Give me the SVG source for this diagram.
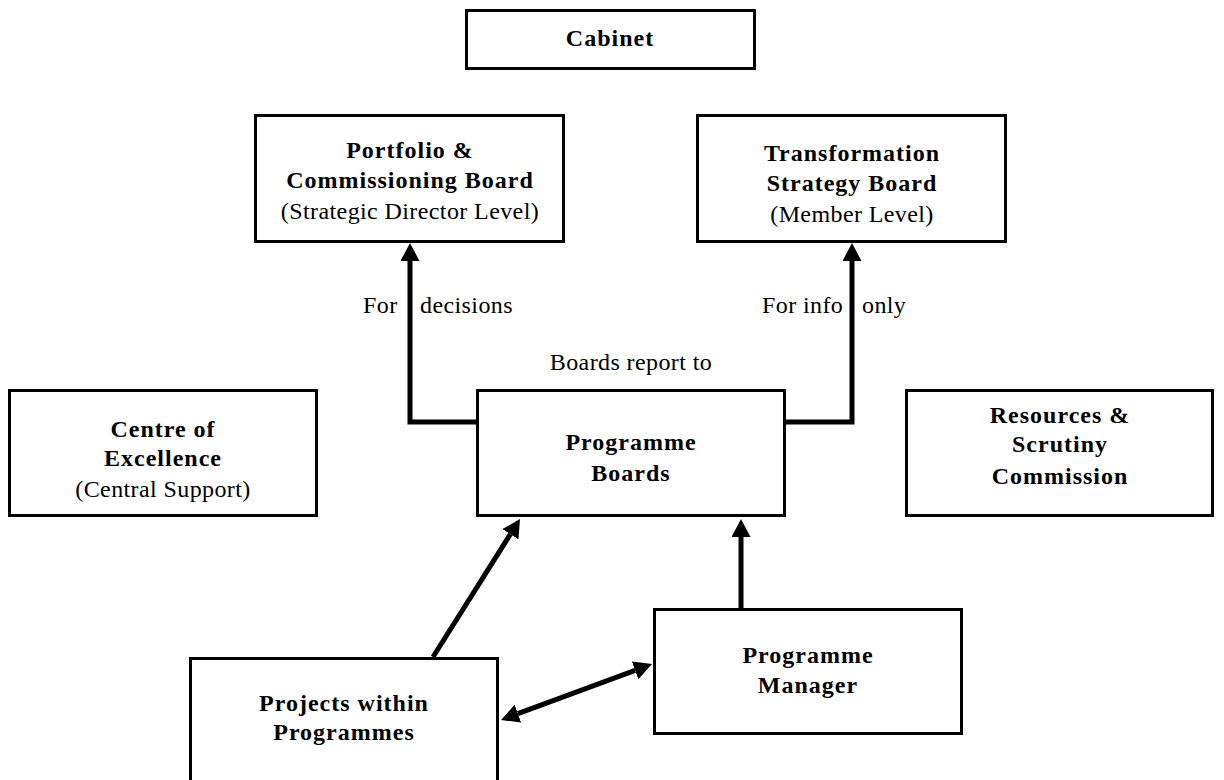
<svg xmlns="http://www.w3.org/2000/svg" width="1224" height="780" viewBox="0 0 1224 780">
<style>
.box{fill:#fff;stroke:#000;stroke-width:3}
.b{font-family:"Liberation Serif","Times New Roman",serif;font-weight:bold;font-size:24px;letter-spacing:1px;text-anchor:middle;fill:#000}
.r{font-family:"Liberation Serif","Times New Roman",serif;font-size:24px;letter-spacing:0.4px;text-anchor:middle;fill:#000}
.l{font-family:"Liberation Serif","Times New Roman",serif;font-size:24px;letter-spacing:0.4px;fill:#000}
.c{fill:none;stroke:#000;stroke-width:5;stroke-linejoin:miter}
</style>
<defs>
<marker id="ah" markerUnits="userSpaceOnUse" markerWidth="18" markerHeight="19" viewBox="0 0 18 19" refX="0" refY="9.5" orient="auto-start-reverse">
<path d="M0,0 L18,9.5 L0,19 z" fill="#000"/>
</marker>
</defs>
<rect width="1224" height="780" fill="#fff"/>
<g id="cabinet">
<rect class="box" x="466.5" y="10.5" width="288" height="58"/>
<text class="b" x="610" y="46">Cabinet</text>
</g>
<g id="portfolio">
<rect class="box" x="255.5" y="115.5" width="308" height="126"/>
<text class="b" x="410" y="158">Portfolio &amp;</text>
<text class="b" x="410" y="188">Commissioning Board</text>
<text class="r" x="410" y="219">(Strategic Director Level)</text>
</g>
<g id="transformation">
<rect class="box" x="697.5" y="115.5" width="308" height="126"/>
<text class="b" x="852" y="161">Transformation</text>
<text class="b" x="852" y="191">Strategy Board</text>
<text class="r" x="852" y="222">(Member Level)</text>
</g>
<g id="centre">
<rect class="box" x="9.5" y="390.5" width="307" height="125"/>
<text class="b" x="163" y="437">Centre of</text>
<text class="b" x="163" y="466">Excellence</text>
<text class="r" x="163" y="497">(Central Support)</text>
</g>
<g id="programme-boards">
<rect class="box" x="477.5" y="390.5" width="307" height="125"/>
<text class="b" x="631" y="450">Programme</text>
<text class="b" x="631" y="481">Boards</text>
</g>
<g id="resources">
<rect class="box" x="906.5" y="390.5" width="306" height="125"/>
<text class="b" x="1060" y="423">Resources &amp;</text>
<text class="b" x="1060" y="452">Scrutiny</text>
<text class="b" x="1060" y="484">Commission</text>
</g>
<g id="projects">
<rect class="box" x="190.5" y="658.5" width="307" height="200"/>
<text class="b" x="344" y="711">Projects within</text>
<text class="b" x="344" y="740">Programmes</text>
</g>
<g id="manager">
<rect class="box" x="654.5" y="609.5" width="307" height="124"/>
<text class="b" x="808" y="663">Programme</text>
<text class="b" x="808" y="693">Manager</text>
</g>
<g id="connectors">
<path class="c" d="M477,422 H410 V261" marker-end="url(#ah)"/>
<path class="c" d="M785,422 H852 V261" marker-end="url(#ah)"/>
<path class="c" d="M741,608 V537" marker-end="url(#ah)"/>
<path class="c" d="M433,657 L510.4,534.2" marker-end="url(#ah)"/>
<path class="c" d="M517.9,713.7 L635.1,670.3" marker-start="url(#ah)" marker-end="url(#ah)"/>
<text class="l" x="363" y="313"><tspan x="363">For</tspan><tspan x="420">decisions</tspan></text>
<text class="l" y="313"><tspan x="762">For info</tspan><tspan x="862">only</tspan></text>
<text class="r" x="631" y="370">Boards report to</text>
</g>
</svg>
